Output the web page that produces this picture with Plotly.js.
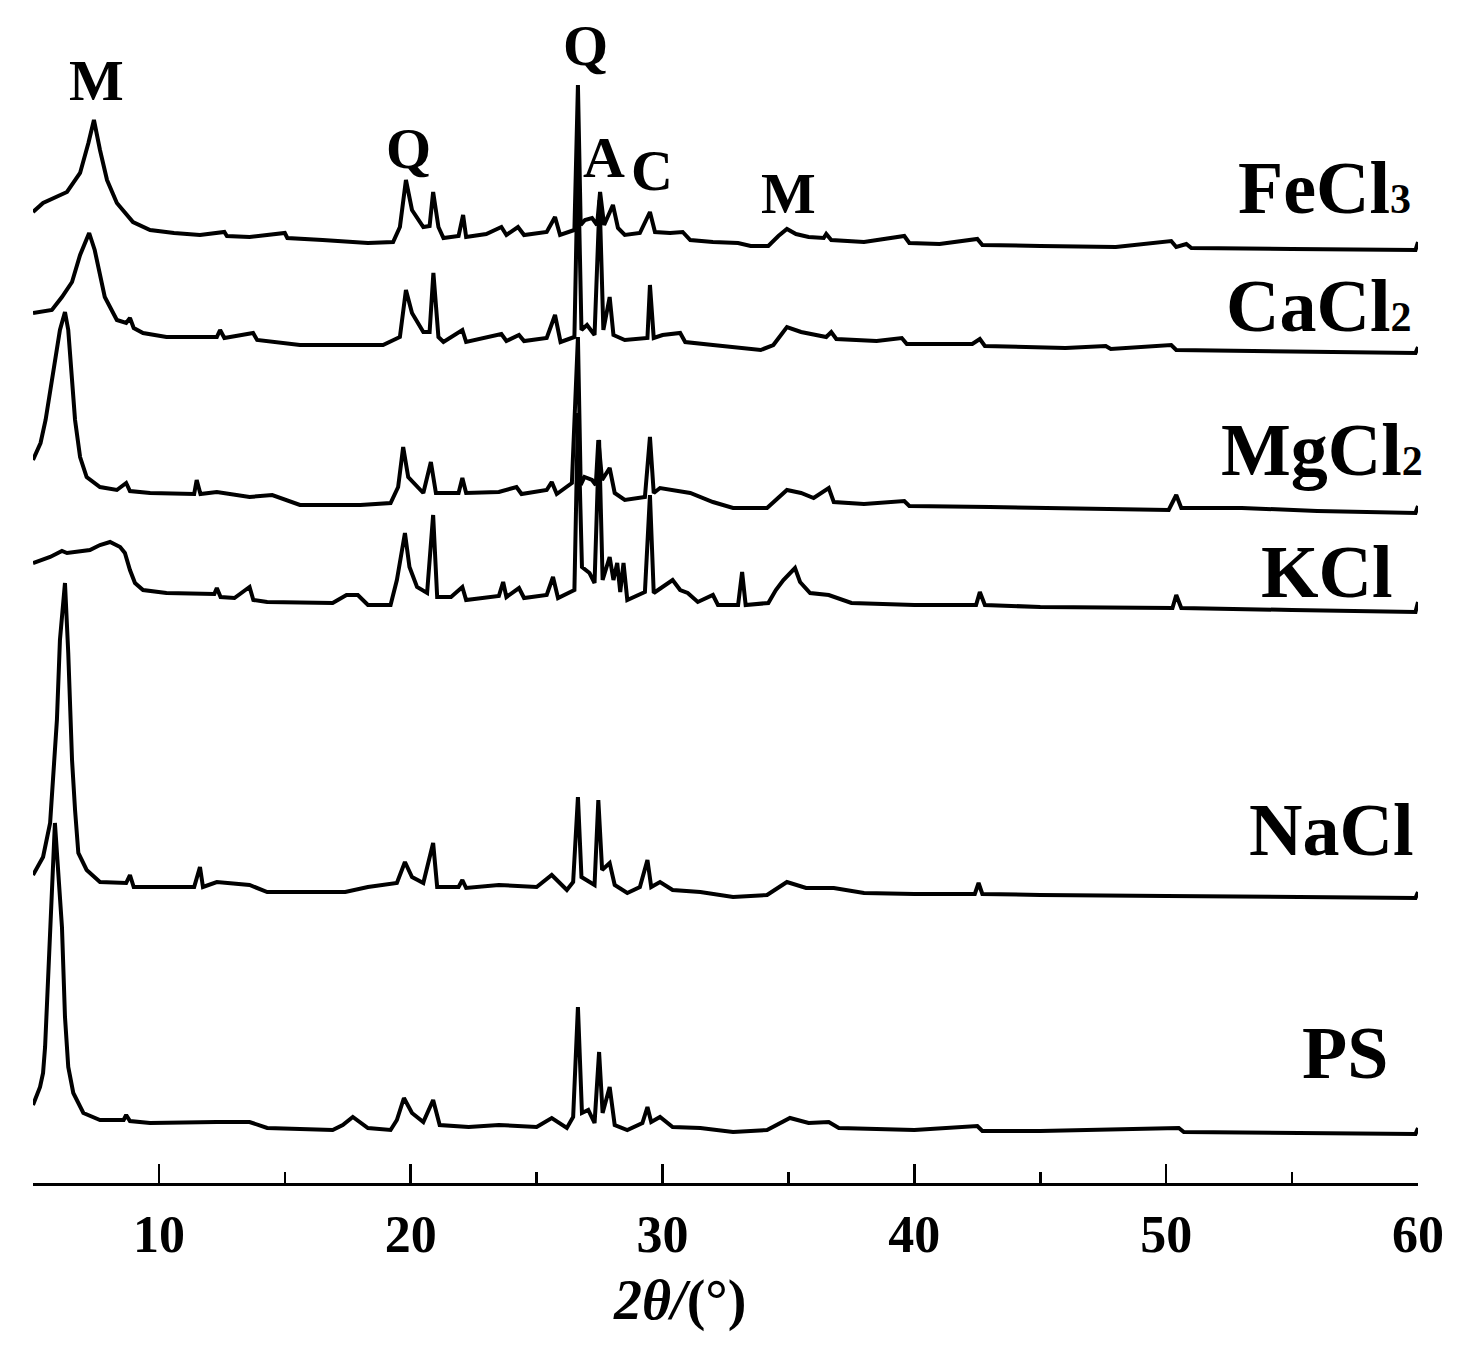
<!DOCTYPE html>
<html>
<head>
<meta charset="utf-8">
<script src="https://cdn.plot.ly/plotly-3.0.1.min.js"></script>
<style>
  html, body { margin: 0; padding: 0; background: #fff; }
  #chart { width: 1472px; height: 1347px; }
</style>
</head>
<body>
<div id="chart"></div>
<script>
// XRD patterns, 2θ in degrees, intensity as stacked height (a.u.)
const feX = [5.00, 5.40, 6.35, 6.87, 7.20, 7.42, 7.66, 7.94, 8.33, 8.97, 9.65, 10.6, 11.63, 12.6, 12.7, 13.6, 15.0, 15.1, 16.5, 18.3, 19.3, 19.57, 19.81, 20.05, 20.5, 20.75, 20.89, 21.1, 21.3, 21.9, 22.08, 22.2, 23.0, 23.6, 23.8, 24.26, 24.5, 25.4, 25.73, 25.93, 26.5, 26.64, 26.75, 26.92, 27.2, 27.4, 27.52, 27.68, 28.03, 28.23, 28.5, 29.1, 29.5, 29.7, 30.3, 30.8, 31.1, 32.0, 33.0, 33.5, 34.2, 34.6, 34.94, 35.3, 35.8, 36.4, 36.5, 36.7, 38.0, 39.6, 39.8, 41.0, 42.5, 42.7, 45.0, 48.0, 50.2, 50.4, 50.8, 51.0, 55.0, 59.9, 60.0];
const feY = [971, 980, 991, 1010, 1040, 1063, 1033, 1003, 980, 961, 953, 950, 948, 951, 947, 946, 950, 945, 943, 940, 941, 956, 1003, 973, 956, 957, 991, 956, 945, 947, 968, 946, 949, 956, 948, 956, 948, 951, 966, 948, 953, 1098, 958, 963, 965, 958, 991, 958, 978, 955, 948, 950, 971, 951, 950, 951, 943, 941, 940, 937, 937, 947, 954, 949, 946, 945, 949, 943, 941, 947, 940, 939, 944, 938, 937, 936, 942, 936, 939, 935, 934, 933, 941];

const caX = [5.00, 5.75, 6.15, 6.55, 6.87, 7.10, 7.23, 7.45, 7.66, 7.85, 8.33, 8.70, 8.85, 9.0, 9.37, 10.3, 12.3, 12.43, 12.6, 13.74, 13.9, 15.6, 18.9, 19.57, 19.81, 20.05, 20.5, 20.75, 20.9, 21.1, 21.3, 22.05, 22.2, 23.6, 23.8, 24.3, 24.5, 25.4, 25.73, 25.95, 26.5, 26.64, 26.78, 27.0, 27.3, 27.5, 27.65, 27.9, 28.05, 28.5, 29.4, 29.5, 29.65, 30.0, 30.7, 30.9, 32.0, 33.9, 34.4, 34.94, 35.5, 36.5, 36.7, 36.9, 38.5, 39.5, 39.7, 42.3, 42.6, 42.8, 46.0, 47.6, 47.8, 50.2, 50.4, 55.0, 59.9, 60.0];
const caY = [870, 873, 886, 901, 928, 943, 950, 933, 908, 886, 863, 860, 865, 855, 850, 846, 846, 853, 845, 850, 843, 838, 838, 846, 893, 870, 851, 851, 910, 846, 841, 853, 841, 849, 842, 848, 842, 845, 868, 841, 846, 1023, 853, 858, 848, 983, 853, 886, 848, 843, 845, 898, 845, 848, 850, 841, 838, 833, 838, 856, 851, 846, 851, 844, 842, 845, 839, 839, 844, 837, 835, 837, 834, 838, 833, 832, 830, 836];

const mgX = [5.00, 5.30, 5.50, 5.68, 5.87, 6.07, 6.27, 6.40, 6.55, 6.67, 6.87, 7.13, 7.66, 8.33, 8.70, 8.85, 9.65, 11.4, 11.5, 11.65, 12.3, 13.6, 14.5, 15.6, 18.0, 19.2, 19.5, 19.7, 19.9, 20.25, 20.5, 20.8, 21.0, 21.9, 22.05, 22.2, 23.5, 24.2, 24.4, 25.4, 25.6, 25.8, 26.4, 26.64, 26.75, 26.9, 27.2, 27.35, 27.45, 27.6, 27.9, 28.1, 28.5, 29.3, 29.5, 29.65, 29.9, 31.1, 32.0, 32.8, 34.15, 34.94, 35.5, 36.0, 36.6, 36.8, 38.0, 39.6, 39.8, 43.0, 46.0, 50.1, 50.4, 50.6, 53.0, 56.0, 59.9, 60.0];
const mgY = [723, 740, 763, 790, 820, 853, 871, 853, 803, 763, 726, 706, 696, 693, 700, 692, 690, 689, 703, 689, 691, 686, 688, 678, 678, 680, 696, 736, 706, 696, 690, 721, 690, 690, 705, 690, 691, 696, 689, 693, 701, 689, 700, 846, 698, 706, 703, 698, 743, 703, 715, 690, 683, 686, 746, 690, 695, 690, 681, 675, 675, 693, 690, 685, 695, 681, 679, 682, 677, 676, 675, 673, 688, 675, 675, 672, 670, 677];

const kX = [5.00, 5.68, 6.15, 6.35, 7.26, 7.66, 8.06, 8.46, 8.65, 8.85, 9.05, 9.37, 10.3, 12.2, 12.3, 12.45, 13.0, 13.6, 13.75, 14.3, 16.9, 17.45, 17.9, 18.3, 19.2, 19.45, 19.77, 19.95, 20.25, 20.65, 20.89, 21.05, 21.6, 22.05, 22.2, 23.5, 23.67, 23.8, 24.3, 24.5, 25.4, 25.65, 25.85, 26.5, 26.64, 26.8, 27.1, 27.3, 27.48, 27.62, 27.9, 28.05, 28.2, 28.32, 28.45, 28.6, 29.3, 29.5, 29.65, 30.4, 30.7, 31.0, 31.4, 32.0, 32.2, 33.0, 33.16, 33.3, 34.2, 34.5, 34.8, 35.26, 35.46, 35.86, 36.6, 37.5, 40.0, 42.45, 42.6, 42.8, 45.0, 48.0, 50.25, 50.4, 50.6, 55.0, 59.9, 60.0];
const kY = [620, 626, 632, 630, 633, 638, 641, 636, 630, 613, 600, 593, 590, 589, 595, 586, 585, 596, 583, 581, 580, 588, 588, 578, 578, 603, 650, 616, 596, 590, 668, 586, 586, 596, 583, 587, 601, 586, 595, 585, 588, 606, 585, 593, 770, 616, 610, 600, 743, 603, 626, 603, 620, 591, 620, 583, 591, 688, 590, 603, 593, 590, 581, 588, 578, 578, 611, 578, 580, 593, 603, 615, 601, 590, 588, 580, 578, 578, 591, 578, 576, 575, 575, 588, 575, 573, 571, 581];

const naX = [5.00, 5.40, 5.68, 5.80, 5.95, 6.07, 6.27, 6.40, 6.55, 6.67, 6.80, 7.13, 7.66, 8.7, 8.85, 9.0, 11.4, 11.63, 11.75, 12.3, 13.6, 14.3, 17.4, 18.3, 19.45, 19.77, 20.05, 20.5, 20.89, 21.05, 21.9, 22.05, 22.2, 23.5, 25.0, 25.6, 26.2, 26.45, 26.64, 26.78, 27.12, 27.3, 27.45, 27.6, 27.9, 28.1, 28.6, 29.1, 29.4, 29.55, 29.9, 30.4, 31.5, 32.8, 34.15, 34.94, 35.7, 36.8, 38.0, 40.0, 42.4, 42.55, 42.7, 45.0, 50.0, 55.0, 59.9, 60.0];
const naY = [308, 326, 360, 406, 463, 543, 600, 530, 423, 373, 330, 313, 301, 300, 308, 296, 296, 316, 296, 301, 298, 291, 291, 296, 300, 321, 306, 300, 340, 296, 296, 303, 295, 298, 296, 308, 293, 301, 386, 306, 300, 298, 383, 313, 320, 298, 290, 296, 323, 296, 301, 293, 291, 286, 288, 301, 295, 295, 290, 289, 289, 300, 289, 288, 287, 286, 285, 291];

const psX = [5.00, 5.28, 5.40, 5.48, 5.55, 5.68, 5.87, 6.15, 6.27, 6.40, 6.60, 7.00, 7.66, 8.6, 8.7, 8.85, 9.65, 12.3, 13.6, 14.3, 16.9, 17.3, 17.7, 18.3, 19.2, 19.45, 19.73, 20.05, 20.5, 20.89, 21.15, 22.3, 23.5, 25.0, 25.6, 26.2, 26.45, 26.64, 26.8, 27.05, 27.3, 27.48, 27.62, 27.9, 28.1, 28.6, 29.2, 29.4, 29.55, 29.9, 30.4, 31.5, 32.8, 34.15, 35.06, 35.8, 36.6, 37.0, 40.0, 42.5, 42.7, 45.0, 50.5, 50.7, 55.0, 59.9, 60.0];
const psY = [78, 96, 110, 136, 176, 256, 360, 256, 166, 116, 90, 70, 63, 63, 68, 62, 60, 61, 61, 55, 53, 58, 66, 55, 53, 63, 85, 70, 61, 83, 58, 56, 58, 56, 65, 55, 66, 176, 70, 73, 60, 131, 70, 96, 58, 53, 60, 76, 61, 66, 56, 55, 51, 53, 65, 60, 61, 55, 53, 57, 52, 52, 55, 51, 50, 49, 55];

const series = [
  { x: feX, y: feY }, { x: caX, y: caY }, { x: mgX, y: mgY },
  { x: kX, y: kY }, { x: naX, y: naY }, { x: psX, y: psY },
];

// sample names (right side) and phase marks
const sampleNames = ["FeCl", "CaCl", "MgCl", "KCl", "NaCl", "PS"];
const sampleSubs = ["3", "2", "2", "", "", ""];
const sampleNameX = [59.80, 59.80, 60.0, 59.09, 59.88, 58.89];
const sampleNameY = [995, 877, 733, 611, 353, 130];
const phaseMarks = ["M", "Q", "Q", "A", "C", "M"];
const phaseMarkX = [7.54, 19.93, 26.96, 27.68, 29.58, 35.02];
const phaseMarkY = [1103, 1035, 1138, 1026, 1013, 990];

const serif = "Liberation Serif, Times New Roman, serif";

const traces = series.map((s) => ({
  x: s.x,
  y: s.y,
  type: "scatter",
  mode: "lines",
  line: { color: "#000", width: 4 },
  hoverinfo: "skip",
  showlegend: false,
  cliponaxis: false,
}));

const annotations = [];
sampleNames.forEach((name, i) => {
  const sub = sampleSubs[i] ? `<span style="font-size:42px">${sampleSubs[i]}</span>` : "";
  annotations.push({
    x: sampleNameX[i], y: sampleNameY[i], xref: "x", yref: "y",
    xshift: i === 2 ? 7 : 0,
    text: `<b>${name}${sub}</b>`, showarrow: false, xanchor: "right", yanchor: "middle",
    font: { family: serif, size: 74, color: "#000" },
  });
});
phaseMarks.forEach((m, i) => {
  annotations.push({
    x: phaseMarkX[i], y: phaseMarkY[i], xref: "x", yref: "y",
    text: `<b>${m}</b>`, showarrow: false, xanchor: "center", yanchor: "middle",
    font: { family: serif, size: 58, color: "#000" },
  });
});
annotations.push({
  x: 30.66, y: 0, xref: "x", yref: "paper",
  text: "<b><i>2θ/</i>(°)</b>", showarrow: false, xanchor: "center", yanchor: "top",
  yshift: -84,
  font: { family: serif, size: 56, color: "#000" },
});

const layout = {
  width: 1472,
  height: 1347,
  margin: { l: 33, r: 54, t: 0, b: 164 },
  paper_bgcolor: "#fff",
  plot_bgcolor: "#fff",
  showlegend: false,
  hovermode: false,
  xaxis: {
    range: [5, 60],
    tick0: 0,
    dtick: 10,
    ticks: "inside",
    ticklen: 19,
    tickwidth: 2.5,
    tickcolor: "#000",
    showline: true,
    linewidth: 3,
    linecolor: "#000",
    showgrid: false,
    zeroline: false,
    ticklabelstandoff: 4,
    tickfont: { family: serif, size: 52, color: "#000", weight: "bold" },
    minor: { tick0: 0, dtick: 5, ticks: "inside", ticklen: 11, tickwidth: 2.5, tickcolor: "#000", showgrid: false },
  },
  yaxis: {
    range: [0, 1183],
    visible: false,
    fixedrange: true,
  },
  annotations,
};

Plotly.newPlot("chart", traces, layout, { staticPlot: true });
</script>
</body>
</html>
